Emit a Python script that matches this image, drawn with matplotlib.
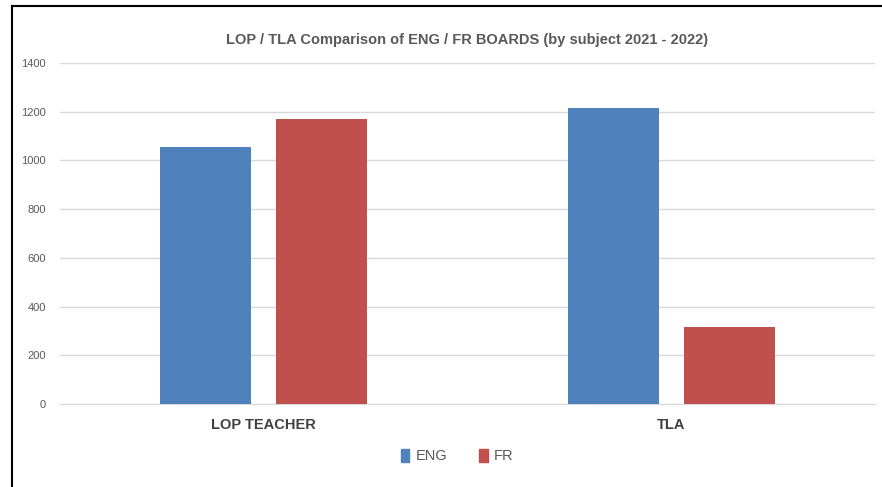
import matplotlib.pyplot as plt
import numpy as np
from matplotlib.lines import Line2D
from matplotlib.patches import Patch

plt.rcParams['font.family'] = ['Liberation Sans', 'DejaVu Sans']

categories = ['LOP TEACHER', 'TLA']
series = ['ENG', 'FR']
eng = [1056, 1214]
fr = [1170, 315]
colors = ['#4F81BD', '#C0504D']
yticks = [0, 200, 400, 600, 800, 1000, 1200, 1400]

W, H = 882, 487
fig = plt.figure(figsize=(W / 100, H / 100), dpi=100)
ax = fig.add_axes([60 / W, (H - 404) / H, 815 / W, 341 / H])

x = np.arange(len(categories))
bw = 0.223
off = 0.142
ax.bar(x - off, eng, bw, color=colors[0], zorder=3)
ax.bar(x + off, fr, bw, color=colors[1], zorder=3)

ax.set_xlim(-0.5, 1.5)
ax.set_ylim(0, 1400)
ax.set_yticks(yticks)
ax.yaxis.grid(True, color='#D9D9D9', linewidth=1, zorder=0)
ax.set_xticks(x)
ax.set_xticklabels(categories, fontsize=10.5, fontweight='bold', color='#404040')
ax.tick_params(axis='x', length=0, pad=10)
ax.tick_params(axis='y', length=0, pad=10, labelsize=8, labelcolor='#595959')
for s in ['top', 'right', 'left']:
    ax.spines[s].set_visible(False)
ax.spines['bottom'].set_color('#D9D9D9')

fig.text(467 / W, 1 - 40 / H, 'LOP / TLA Comparison of ENG / FR BOARDS (by subject 2021 - 2022)',
         ha='center', va='center', fontsize=10.5, fontweight='bold', color='#595959')

handles = [Patch(color=c, label=s) for c, s in zip(colors, series)]
fig.legend(handles=handles, loc='center', bbox_to_anchor=(457 / W, 1 - 456 / H), ncol=2,
           frameon=False, fontsize=10.5, handlelength=0.6, handleheight=1.0,
           handletextpad=0.4, columnspacing=2.2, labelcolor='#595959')

# chart border
fig.add_artist(Line2D([12 / W, 1], [1 - 6 / H, 1 - 6 / H], color='black', linewidth=1.5))
fig.add_artist(Line2D([12 / W, 12 / W], [0, 1 - 6 / H], color='black', linewidth=1.5))

fig.savefig('out.png', dpi=100)
